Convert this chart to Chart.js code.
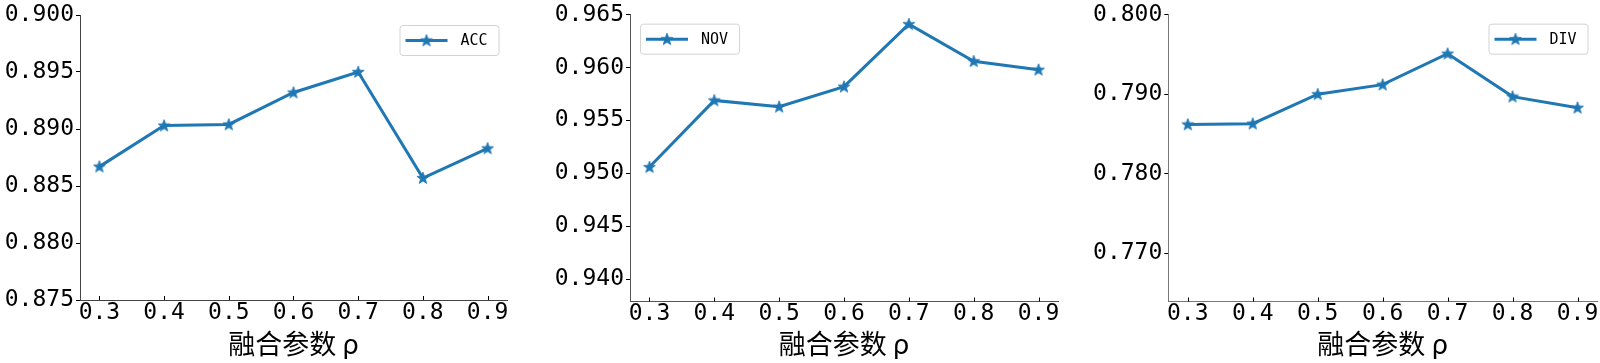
<!DOCTYPE html>
<html><head><meta charset="utf-8">
<script src="https://cdn.jsdelivr.net/npm/chart.js@4/dist/chart.umd.min.js"></script>
<style>
html,body{margin:0;padding:0;background:#fff;width:1600px;height:363px;overflow:hidden;position:relative}
canvas{position:absolute;top:0}
</style></head><body>
<canvas id="c1" width="560" height="363" style="left:0px"></canvas>
<canvas id="c2" width="560" height="363" style="left:530px"></canvas>
<canvas id="c3" width="560" height="363" style="left:1080px"></canvas>
<script>
// ---- data ----
const rhoValues = [0.3, 0.4, 0.5, 0.6, 0.7, 0.8, 0.9];
const accValues = [0.8867, 0.8903, 0.8904, 0.8932, 0.8950, 0.8857, 0.8883];
const novValues = [0.9506, 0.9569, 0.9563, 0.9582, 0.9641, 0.9606, 0.9598];
const divValues = [0.7862, 0.7863, 0.7900, 0.7912, 0.7951, 0.7897, 0.7883];
const accTicks = [0.875, 0.880, 0.885, 0.890, 0.895, 0.900];
const novTicks = [0.940, 0.945, 0.950, 0.955, 0.960, 0.965];
const divTicks = [0.770, 0.780, 0.790, 0.800];
const seriesNames = ['ACC', 'NOV', 'DIV'];
const xTitle = '融合参数 ρ';

// ---- styling ----
const BLUE = '#1f77b4';
const TICK_FONT = '"DejaVu Sans Mono", monospace';

function makeStar(){
  const c = document.createElement('canvas');
  c.width = 14; c.height = 14;
  const g = c.getContext('2d');
  const cx = 7, cy = 7.3, R = 6.3, r = 2.6;
  g.beginPath();
  for (let i = 0; i < 10; i++) {
    const a = -Math.PI/2 + i*Math.PI/5;
    const rr = i % 2 ? r : R;
    const px = cx + rr*Math.cos(a), py = cy + rr*Math.sin(a);
    i ? g.lineTo(px, py) : g.moveTo(px, py);
  }
  g.closePath();
  g.fillStyle = BLUE; g.fill();
  g.strokeStyle = BLUE; g.lineWidth = 0.8; g.stroke();
  return c;
}
const starImg = makeStar();

const legendPlugin = {
  id: 'boxLegend',
  afterDraw(chart, args, o) {
    const ctx = chart.ctx, ca = chart.chartArea;
    const w = 99, h = 30;
    const x = o.side === 'left' ? ca.left + o.dx : ca.right - o.dx - w;
    const y = ca.top + o.dy;
    ctx.save();
    ctx.beginPath();
    ctx.roundRect(x + 0.5, y + 0.5, w, h, 3);
    ctx.fillStyle = 'rgba(255,255,255,0.85)';
    ctx.fill();
    ctx.strokeStyle = '#d3d3d3'; ctx.lineWidth = 1; ctx.stroke();
    const ds = chart.data.datasets[0];
    const cy = y + 15.5;
    ctx.beginPath();
    ctx.strokeStyle = ds.borderColor; ctx.lineWidth = ds.borderWidth;
    ctx.moveTo(x + 6, cy); ctx.lineTo(x + 48, cy); ctx.stroke();
    ctx.drawImage(starImg, x + 27 - 7, cy - 7);
    ctx.font = '15px ' + TICK_FONT;
    ctx.fillStyle = '#000'; ctx.textBaseline = 'middle'; ctx.textAlign = 'left';
    ctx.fillText(ds.label, x + 61, cy + 1);
    ctx.restore();
  }
};

const inTicksPlugin = {
  id: 'inTicks',
  afterDraw(chart, args, o) {
    const s = chart.scales.x, ctx = chart.ctx;
    ctx.save();
    ctx.strokeStyle = '#000'; ctx.lineWidth = 1;
    s.ticks.forEach(t => {
      const px = Math.round(s.getPixelForValue(t.value)) + 0.5;
      ctx.beginPath(); ctx.moveTo(px, s.top); ctx.lineTo(px, s.top - 4); ctx.stroke();
    });
    ctx.restore();
  }
};

function makeChart(id, values, name, yTicks, yMin, yMax, geo, legendOpts, spine){
  const pts = rhoValues.map((x, i) => ({x: x, y: values[i]}));
  return new Chart(document.getElementById(id), {
    type: 'line',
    data: { datasets: [{
      label: name, data: pts,
      borderColor: BLUE, backgroundColor: BLUE, borderWidth: 3,
      pointStyle: starImg, pointRadius: 7, pointHoverRadius: 7,
      tension: 0, fill: false, clip: false
    }]},
    plugins: [legendPlugin, inTicksPlugin],
    options: {
      responsive: false, animation: false, devicePixelRatio: 1,
      layout: { padding: { left: 0, right: geo.right, top: geo.top, bottom: 0 } },
      plugins: { legend: { display: false }, tooltip: { enabled: false }, boxLegend: legendOpts },
      scales: {
        x: {
          type: 'linear', min: 0.27, max: 0.93,
          afterBuildTicks: s => { s.ticks = rhoValues.map(v => ({value: v})); },
          afterFit: s => { s.height = geo.xh; },
          grid: { display: true, drawOnChartArea: false, drawTicks: false },
          border: { display: true, color: spine, width: 1 },
          ticks: { color: '#000', padding: 0, maxRotation: 0, autoSkip: false,
                   font: { family: TICK_FONT, size: 23, lineHeight: 1.1 },
                   callback: v => v.toFixed(1) },
          title: { display: true, text: xTitle, color: '#000',
                   font: { family: '"Noto Sans CJK SC", sans-serif', size: 27, lineHeight: 1 },
                   padding: { top: 0, bottom: 5.5 } }
        },
        y: {
          min: yMin, max: yMax,
          afterBuildTicks: s => { s.ticks = yTicks.map(v => ({value: v})); },
          afterFit: s => { s.width = geo.yw; },
          grid: { display: true, drawOnChartArea: false, drawTicks: true, tickLength: 4, color: '#000' },
          border: { display: true, color: spine, width: 1 },
          ticks: { color: '#000', padding: 2, autoSkip: false,
                   font: { family: TICK_FONT, size: 23, lineHeight: 1.1 },
                   callback: v => v.toFixed(3) }
        }
      }
    }
  });
}

makeChart('c1', accValues, seriesNames[0], accTicks, 0.875, 0.900,
  { yw: 80, right: 53, top: 15, xh: 63 }, { side: 'right', dx: 8.5, dy: 10 }, '#444');
makeChart('c2', novValues, seriesNames[1], novTicks, 0.9379, 0.965,
  { yw: 100, right: 32, top: 13.5, xh: 61.5 }, { side: 'left', dx: 10, dy: 9 }, '#555');
makeChart('c3', divValues, seriesNames[2], divTicks, 0.76395, 0.8,
  { yw: 88.3, right: 43, top: 13.3, xh: 61.5 }, { side: 'right', dx: 9.5, dy: 9 }, '#777');
</script>
</body></html>
